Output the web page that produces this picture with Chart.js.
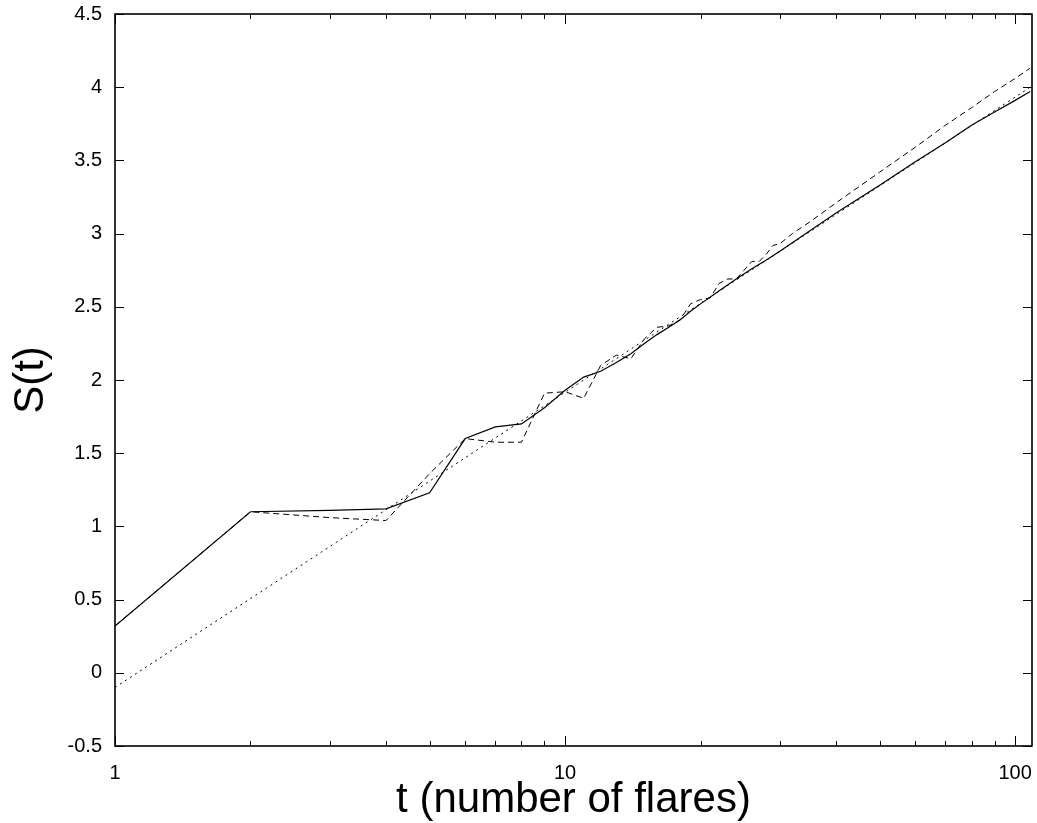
<!DOCTYPE html>
<html>
<head>
<meta charset="utf-8">
<script src="https://cdn.jsdelivr.net/npm/chart.js@4/dist/chart.umd.min.js"></script>
<style>
  html, body { margin: 0; padding: 0; background: #fff; }
  #wrap { width: 1037px; height: 823px; }
</style>
</head>
<body>
<div id="wrap"><canvas id="entropy-chart"></canvas></div>
<script>
// t = number of flares, S(t)
const solidT = [1, 2, 3, 4, 5, 6, 7, 8, 9, 10, 11, 12, 13, 14, 15, 16, 17, 18, 19, 20,
  22, 24, 26, 28, 30, 35, 40, 50, 60, 70, 80, 90, 100, 108];
const solidS = [0.32, 1.10, 1.11, 1.12, 1.23, 1.60, 1.68, 1.70, 1.81, 1.93, 2.02, 2.06, 2.12, 2.18,
  2.25, 2.31, 2.36, 2.41, 2.47, 2.52, 2.61, 2.69, 2.76, 2.82, 2.88, 3.02, 3.14, 3.33, 3.49, 3.62,
  3.74, 3.83, 3.91, 3.97];

const dashedT = [1, 2, 3, 4, 5, 6, 7, 8, 9, 10, 11, 12, 13, 14, 15, 16, 17, 18, 19, 20,
  21, 22, 23, 24, 25, 26, 27, 28, 29, 30, 32, 35, 40, 50, 60, 70, 80, 90, 100, 108];
const dashedS = [0.32, 1.10, 1.06, 1.04, 1.36, 1.60, 1.575, 1.575, 1.91, 1.92, 1.875, 2.10, 2.17,
  2.145, 2.28, 2.36, 2.37, 2.41, 2.52, 2.55, 2.56, 2.66, 2.69, 2.69, 2.75, 2.81, 2.81, 2.86, 2.92,
  2.93, 3.00, 3.08, 3.21, 3.42, 3.59, 3.74, 3.86, 3.97, 4.06, 4.13];

// straight fit line (dotted)
const fitT = [1, 108];
const fitS = [-0.1, 4.0];

const xMin = 1;
const xMax = 109;
const yMin = -0.5;
const yMax = 4.5;
const yStep = 0.5;

const FONT = "'Liberation Sans', Arial, Helvetica, sans-serif";

function toPoints(ts, ss) {
  return ts.map((t, i) => ({ x: t, y: ss[i] }));
}

function isPow10(v) {
  const lg = Math.log10(v);
  return Math.abs(lg - Math.round(lg)) < 1e-9;
}

// gnuplot style box with inward ticks on all four sides
const frameTicks = {
  id: "frameTicks",
  afterDatasetsDraw(chart) {
    const { ctx, chartArea: a, scales } = chart;
    const x = scales.x;
    const y = scales.y;
    ctx.save();
    ctx.strokeStyle = "#000";
    ctx.lineWidth = 1;
    ctx.beginPath();
    x.ticks.forEach((t) => {
      const v = t.value;
      const sig = v / Math.pow(10, Math.floor(Math.log10(v) + 1e-9));
      if (Math.abs(sig - Math.round(sig)) > 1e-6) return;
      const px = Math.round(x.getPixelForValue(v)) + 0.5;
      const len = isPow10(v) ? 10 : 5;
      ctx.moveTo(px, a.bottom);
      ctx.lineTo(px, a.bottom - len);
      ctx.moveTo(px, a.top);
      ctx.lineTo(px, a.top + len);
    });
    y.ticks.forEach((t) => {
      const py = Math.round(y.getPixelForValue(t.value)) + 0.5;
      ctx.moveTo(a.left, py);
      ctx.lineTo(a.left + 9, py);
      ctx.moveTo(a.right, py);
      ctx.lineTo(a.right - 9, py);
    });
    ctx.stroke();
    ctx.lineWidth = 1.6;
    ctx.strokeRect(a.left, a.top, a.right - a.left, a.bottom - a.top);
    ctx.restore();
  },
};

const ctx = document.getElementById("entropy-chart").getContext("2d");

new Chart(ctx, {
  type: "line",
  data: {
    datasets: [
      {
        label: "fit",
        data: toPoints(fitT, fitS),
        borderColor: "#000",
        borderWidth: 1,
        borderDash: [2, 4],
        pointRadius: 0,
        tension: 0,
      },
      {
        label: "dashed",
        data: toPoints(dashedT, dashedS),
        borderColor: "#000",
        borderWidth: 1,
        borderDash: [6, 4],
        pointRadius: 0,
        tension: 0,
      },
      {
        label: "solid",
        data: toPoints(solidT, solidS),
        borderColor: "#000",
        borderWidth: 1.2,
        pointRadius: 0,
        tension: 0,
      },
    ],
  },
  options: {
    responsive: true,
    maintainAspectRatio: false,
    animation: false,
    layout: {
      padding: { top: 14, right: 5, left: 0, bottom: 0 },
    },
    scales: {
      x: {
        type: "logarithmic",
        min: xMin,
        max: xMax,
        grid: { display: false, drawTicks: false },
        border: { display: false },
        ticks: {
          autoSkip: false,
          maxRotation: 0,
          padding: 15,
          color: "#000",
          font: { family: FONT, size: 20 },
          callback: (v) => (isPow10(v) ? String(v) : ""),
        },
        title: {
          display: true,
          text: "t (number of flares)",
          color: "#000",
          font: { family: FONT, size: 42, lineHeight: 1 },
          padding: { top: 0, bottom: 2 },
        },
        afterFit: (s) => {
          s.height = 77;
          s.paddingLeft = 0;
          s.paddingRight = 0;
        },
      },
      y: {
        min: yMin,
        max: yMax,
        grid: { display: false, drawTicks: false },
        border: { display: false },
        ticks: {
          stepSize: yStep,
          padding: 13,
          color: "#000",
          font: { family: FONT, size: 20 },
          callback: (v) => String(v),
        },
        title: {
          display: true,
          text: "S(t)",
          color: "#000",
          font: { family: FONT, size: 42, lineHeight: 1 },
          padding: { top: 10, bottom: 0 },
        },
        afterFit: (s) => {
          s.width = 115;
          s.paddingTop = 0;
          s.paddingBottom = 0;
        },
      },
    },
    plugins: {
      legend: { display: false },
      tooltip: { enabled: false },
    },
  },
  plugins: [frameTicks],
});
</script>
</body>
</html>
